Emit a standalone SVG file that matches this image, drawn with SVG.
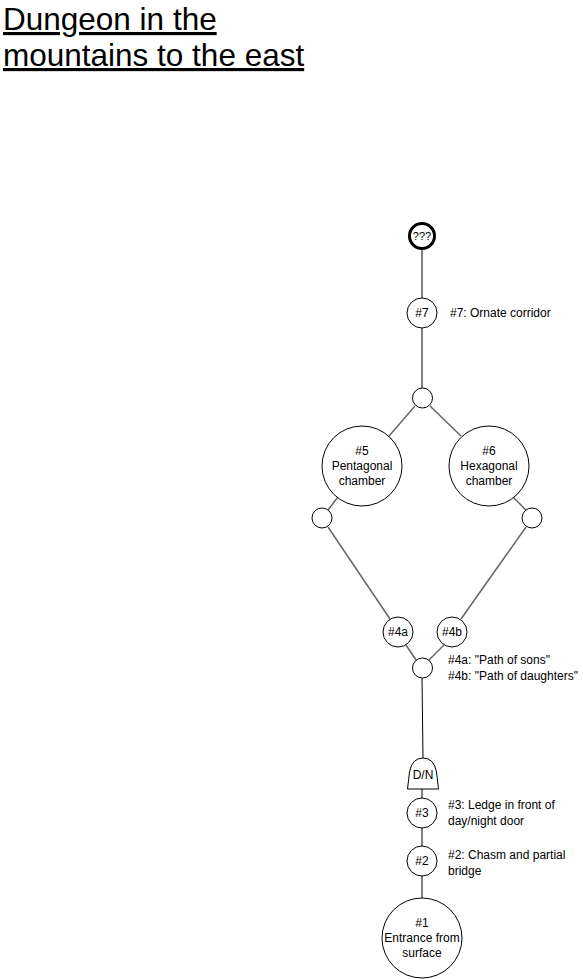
<svg xmlns="http://www.w3.org/2000/svg" width="583" height="979" viewBox="0 0 583 979">
<style>
  text { font-family: "Liberation Sans", Arial, sans-serif; fill: #000; }
  .lbl { font-size: 12px; }
  .ctr { font-size: 12px; text-anchor: middle; }
  .title { font-size: 31.5px; text-decoration: underline; }
  .node { fill: #fff; stroke: #000; stroke-width: 1; }
  .blk { stroke: #000; stroke-width: 1; fill: none; }
  .gry { stroke: #666; stroke-width: 1.5; fill: none; }
</style>
<rect width="583" height="979" fill="#fff"/>
<g id="title">
  <text class="title" x="3" y="30">Dungeon in the</text>
  <text class="title" x="3" y="66">mountains to the east</text>
</g>
<g id="connectors">
  <line class="blk" x1="422" y1="249" x2="422" y2="298"/>
  <line class="blk" x1="422" y1="328" x2="422" y2="388"/>
  <line class="gry" x1="415" y1="406" x2="389" y2="436"/>
  <line class="gry" x1="430" y1="406" x2="461" y2="436"/>
  <line class="gry" x1="338" y1="497" x2="328" y2="510"/>
  <line class="gry" x1="513" y1="497" x2="526" y2="510"/>
  <line class="gry" x1="328" y1="527" x2="390" y2="619"/>
  <line class="gry" x1="526" y1="527" x2="461" y2="619"/>
  <line class="gry" x1="406" y1="645" x2="416" y2="660"/>
  <line class="gry" x1="444" y1="645" x2="429" y2="660"/>
  <line class="blk" x1="422" y1="678" x2="423" y2="758"/>
  <line class="blk" x1="422" y1="789" x2="422" y2="798"/>
  <line class="blk" x1="422" y1="828" x2="422" y2="846"/>
  <line class="blk" x1="422" y1="876" x2="422" y2="898"/>
</g>
<g id="n_unknown">
  <circle cx="422" cy="236" r="12.5" fill="#fff" stroke="#000" stroke-width="3"/>
  <text class="ctr" x="422" y="240" style="font-size:11px">???</text>
</g>
<g id="n7">
  <circle class="node" cx="422" cy="313" r="15"/>
  <text class="ctr" x="422" y="317">#7</text>
</g>
<g id="j_top">
  <circle class="node" cx="422.5" cy="398" r="10"/>
</g>
<g id="n5">
  <circle class="node" cx="362" cy="466" r="40"/>
  <text class="ctr" x="362" y="455">#5</text>
  <text class="ctr" x="362" y="470">Pentagonal</text>
  <text class="ctr" x="362" y="485">chamber</text>
</g>
<g id="n6">
  <circle class="node" cx="489" cy="466" r="40"/>
  <text class="ctr" x="489" y="455">#6</text>
  <text class="ctr" x="489" y="470">Hexagonal</text>
  <text class="ctr" x="489" y="485">chamber</text>
</g>
<g id="j_left">
  <circle class="node" cx="322" cy="518" r="10"/>
</g>
<g id="j_right">
  <circle class="node" cx="532" cy="518" r="10"/>
</g>
<g id="n4a">
  <circle class="node" cx="398" cy="632" r="15"/>
  <text class="ctr" x="398" y="636">#4a</text>
</g>
<g id="n4b">
  <circle class="node" cx="452" cy="632" r="15"/>
  <text class="ctr" x="452" y="636">#4b</text>
</g>
<g id="j_bottom">
  <circle class="node" cx="422.5" cy="668" r="10"/>
</g>
<g id="dn">
  <path class="node" d="M407.5,789 L409.5,772 Q412,758 423,758 Q434,758 436.5,772 L438.5,789 Z"/>
  <text class="ctr" x="423" y="779">D/N</text>
</g>
<g id="n3">
  <circle class="node" cx="422" cy="813" r="15"/>
  <text class="ctr" x="422" y="817">#3</text>
</g>
<g id="n2">
  <circle class="node" cx="422" cy="861" r="15"/>
  <text class="ctr" x="422" y="865">#2</text>
</g>
<g id="n1">
  <circle class="node" cx="422" cy="938" r="40"/>
  <text class="ctr" x="422" y="927">#1</text>
  <text class="ctr" x="422" y="942">Entrance from</text>
  <text class="ctr" x="422" y="957">surface</text>
</g>
<g id="labels">
  <text class="lbl" x="450" y="317">#7: Ornate corridor</text>
  <text class="lbl" x="448" y="664">#4a: "Path of sons"</text>
  <text class="lbl" x="448" y="680">#4b: "Path of daughters"</text>
  <text class="lbl" x="448" y="809">#3: Ledge in front of</text>
  <text class="lbl" x="448" y="825">day/night door</text>
  <text class="lbl" x="448" y="859">#2: Chasm and partial</text>
  <text class="lbl" x="448" y="875">bridge</text>
</g>
</svg>
